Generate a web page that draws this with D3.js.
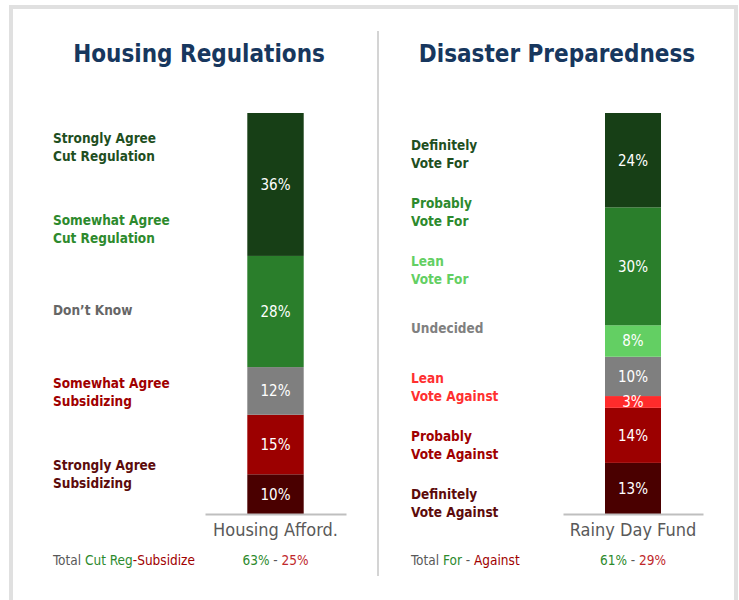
<!DOCTYPE html>
<html><head><meta charset="utf-8">
<script src="https://cdn.jsdelivr.net/npm/d3@7"></script>
<style>
html,body{margin:0;padding:0;background:#fff;}
svg{display:block;}
text{font-family:Tahoma,"DejaVu Sans Condensed","DejaVu Sans",sans-serif;}
</style></head>
<body>
<svg id="chart" width="739" height="600"></svg>
<script>
// ---- data ----
const housingTitle = "Housing Regulations";
const housingCategory = ["Housing Afford."];
const housingLabels = [["Strongly Agree","Cut Regulation"],["Somewhat Agree","Cut Regulation"],["Don\u2019t Know"],["Somewhat Agree","Subsidizing"],["Strongly Agree","Subsidizing"]];
const housingValues = [36, 28, 12, 15, 10];
const housingTotals = ["63%", "25%"];

const disasterTitle = "Disaster Preparedness";
const disasterCategory = ["Rainy Day Fund"];
const disasterLabels = [["Definitely","Vote For"],["Probably","Vote For"],["Lean","Vote For"],["Undecided"],["Lean","Vote Against"],["Probably","Vote Against"],["Definitely","Vote Against"]];
const disasterValues = [24, 30, 8, 10, 3, 14, 13];
const disasterTotals = ["61%", "29%"];

const housingColors = ["#173f16", "#2a7e2b", "#7f7f7f", "#9c0000", "#4a0000"];
const housingTextColors = ["#1f4f1f", "#2d8a2d", "#666666", "#a00000", "#5c0b0b"];
const disasterColors = ["#173f16", "#2a7e2b", "#63cf63", "#7f7f7f", "#ff2b2b", "#9c0000", "#4a0000"];
const disasterTextColors = ["#1f4f1f", "#2d8a2d", "#63cf63", "#808080", "#ff3030", "#a00000", "#5c0b0b"];

const svg = d3.select("#chart");

// frame
svg.append("rect").attr("x", 11).attr("y", 7).attr("width", 725).attr("height", 620)
  .attr("fill", "none").attr("stroke", "#e0e0e0").attr("stroke-width", 4);
// divider
svg.append("line").attr("x1", 378).attr("x2", 378).attr("y1", 31).attr("y2", 576)
  .attr("stroke", "#d4d4d4").attr("stroke-width", 2);

function panel(opts) {
  const g = svg.append("g");
  g.append("text").attr("x", opts.titleX).attr("y", 62).attr("text-anchor", "middle")
    .attr("fill", "#17375e").attr("font-weight", "bold").attr("font-size", 24)
    .text(opts.title);

  const x = d3.scaleBand().domain(opts.category).range(opts.xRange).paddingInner(0.6).paddingOuter(0.3);
  const total = d3.sum(opts.values);
  const y = d3.scaleLinear().domain([0, total]).range([514, 113]);

  // stack from bottom: last value at bottom
  let acc = 0;
  const segs = opts.values.map((v, i) => ({v, i})).reverse().map(d => {
    const s = {v: d.v, i: d.i, y0: acc, y1: acc + d.v};
    acc += d.v; return s;
  });

  const bx = x(opts.category[0]), bw = x.bandwidth();
  g.selectAll("rect.seg").data(segs).join("rect").attr("class", "seg")
    .attr("x", bx).attr("width", bw)
    .attr("y", d => y(d.y1)).attr("height", d => y(d.y0) - y(d.y1))
    .attr("fill", d => opts.colors[d.i]);

  g.selectAll("text.val").data(segs).join("text").attr("class", "val")
    .attr("x", bx + bw / 2).attr("y", d => (y(d.y0) + y(d.y1)) / 2)
    .attr("dy", "0.36em").attr("text-anchor", "middle")
    .attr("fill", "#ffffff").attr("font-size", 15)
    .text(d => d.v + "%");

  const axis = g.append("g").attr("transform", "translate(0,514)")
    .call(d3.axisBottom(x).tickSize(0).tickPadding(9));
  axis.select(".domain").attr("stroke", "#bfbfbf").attr("stroke-width", 2);
  axis.selectAll("text").attr("font-size", 18).attr("fill", "#595959")
    .attr("font-family", 'Tahoma,"DejaVu Sans Condensed","DejaVu Sans",sans-serif');

  // legend-like labels
  const ly = d3.scalePoint().domain(d3.range(opts.labels.length)).range(opts.labelRange);
  const lg = g.selectAll("text.lab").data(opts.labels).join("text").attr("class", "lab")
    .attr("x", opts.labelX).attr("font-size", 13.5).attr("font-weight", "bold")
    .attr("fill", (d, i) => opts.textColors[i]);
  lg.selectAll("tspan").data((d, i) => d.map((t, k) => ({t, k, n: d.length, i})))
    .join("tspan").attr("x", opts.labelX)
    .attr("y", d => ly(d.i) + (d.k - (d.n - 1) / 2) * 18)
    .attr("dy", "0.36em").text(d => d.t);

  // totals
  const t = g.append("text").attr("x", opts.labelX).attr("y", 560).attr("dy", "0.36em").attr("font-size", 13.5);
  opts.totalParts.forEach(p => t.append("tspan").attr("fill", p.c).text(p.t));
  const t2 = g.append("text").attr("x", bx + bw / 2).attr("y", 560).attr("dy", "0.36em")
    .attr("font-size", 13.5).attr("text-anchor", "middle");
  t2.append("tspan").attr("fill", "#2d8a2d").text(opts.totals[0]);
  t2.append("tspan").attr("fill", "#595959").text(" - ");
  t2.append("tspan").attr("fill", "#c0282b").text(opts.totals[1]);
}

panel({
  title: housingTitle, titleX: 199, category: housingCategory, xRange: [205, 346],
  values: housingValues, colors: housingColors, textColors: housingTextColors,
  labels: housingLabels, labelX: 53, labelRange: [147, 474], totals: housingTotals,
  totalParts: [{t: "Total ", c: "#595959"}, {t: "Cut Reg", c: "#2d8a2d"}, {t: "-Subsidize", c: "#a00000"}]
});
panel({
  title: disasterTitle, titleX: 557, category: disasterCategory, xRange: [563, 703],
  values: disasterValues, colors: disasterColors, textColors: disasterTextColors,
  labels: disasterLabels, labelX: 411, labelRange: [154, 503], totals: disasterTotals,
  totalParts: [{t: "Total ", c: "#595959"}, {t: "For", c: "#2d8a2d"}, {t: " - ", c: "#595959"}, {t: "Against", c: "#a00000"}]
});
</script>
</body></html>
